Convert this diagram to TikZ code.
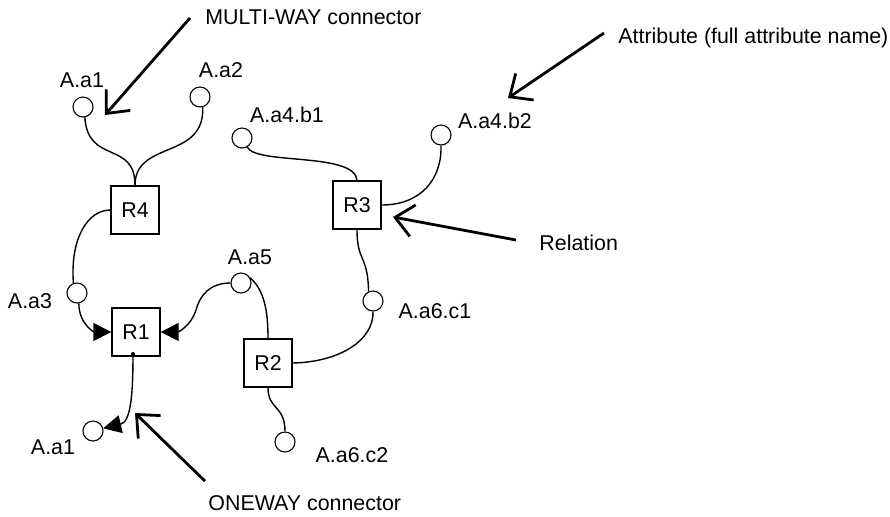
\documentclass[tikz,border=0pt]{standalone}
\usepackage{fontspec}
\setmainfont{Liberation Sans}
\usetikzlibrary{arrows.meta}
\begin{document}
\begin{tikzpicture}[x=0.5pt,y=-0.5pt,
  every node/.style={font=\fontsize{10.7}{12}\selectfont},
  attr/.style={circle,draw,line width=0.55pt,minimum size=10pt,inner sep=0pt},
  rel/.style={draw,line width=0.7pt,minimum size=24pt,inner sep=0pt},
  lbl/.style={inner sep=0pt,text depth=0pt},
  conn/.style={line width=0.7pt},
  oneway/.style={conn,-{Triangle[length=9pt,width=9pt]}},
  callout/.style={line width=1.4pt,-{Straight Barb[length=9pt,width=16pt,line width=1.4pt]}}]
\useasboundingbox (0,0) rectangle (890,516);
% attributes (circles)
\node[attr] (ca1) at (83,107) {};
\node[attr] (ca2) at (200,97) {};
\node[attr] (cb1) at (242,138) {};
\node[attr] (cb2) at (441,135) {};
\node[attr] (ca3) at (77,293) {};
\node[attr] (ca5) at (241,283) {};
\node[attr] (cc1) at (373,301) {};
\node[attr] (cc2) at (285,442) {};
\node[attr] (cx1) at (93,431) {};
% relations (boxes)
\node[rel] (R4) at (135,210) {R4};
\node[rel] (R3) at (357,205) {R3};
\node[rel] (R1) at (136,332) {R1};
\node[rel] (R2) at (268,363) {R2};
% labels
\node[lbl] (la1) at (82,80) {A.a1};
\node[lbl] (la2) at (221,70) {A.a2};
\node[lbl] (lb1) at (287,115) {A.a4.b1};
\node[lbl] (lb2) at (495,121) {A.a4.b2};
\node[lbl] (la3) at (30,301) {A.a3};
\node[lbl] (la5) at (250,257) {A.a5};
\node[lbl] (lc1) at (435,311) {A.a6.c1};
\node[lbl] (lc2) at (352,455) {A.a6.c2};
\node[lbl] (lx1) at (53,447) {A.a1};
% callout texts
\node[lbl,anchor=west] (tmw) at (205,17) {MULTI-WAY connector};
\node[lbl,anchor=west] (tat) at (618,36) {Attribute (full attribute name)};
\node[lbl,anchor=west] (trel) at (539,243) {Relation};
\node[lbl,anchor=west] (tow) at (208,503) {ONEWAY connector};
\coordinate (tipmw) at (105,115);
\coordinate (tipat) at (508,98);
\coordinate (tiprel) at (393,217);
\coordinate (tipow) at (135,413);
\coordinate (r1start) at (133,354);
% connectors
\draw[conn] (R4.north) .. controls (135,140) and (88,165) .. (ca1.-80);
\draw[conn] (R4.north) .. controls (135,140) and (205,160) .. (ca2.-75);
\draw[conn] (R4.west) .. controls (88,210) and (70,238) .. (ca3.110);
\draw[oneway] (ca3.-80) .. controls (79,325) and (95,332) .. (R1.west);
\draw[oneway] (ca5.west) .. controls (210,283) and (200,295) .. (196,310) .. controls (191,326) and (178,332) .. (R1.east);
\draw[conn] (ca5.30) .. controls (264,290) and (268,310) .. (R2.north);
\draw[conn] (R2.south) .. controls (268,410) and (285,405) .. (cc2.north);
\draw[conn] (R2.east) .. controls (340,362) and (374,340) .. (cc1.south);
\draw[conn] (R3.south) .. controls (357,262) and (368,255) .. (cc1.115);
\draw[conn] (cb1.-60) .. controls (256,165) and (355,152) .. (R3.north);
\draw[conn] (R3.east) .. controls (420,205) and (442,180) .. (cb2.south);
\fill (r1start) circle (1pt);
\draw[oneway] (r1start) .. controls (133,400) and (130,422) .. (cx1.15);
% callouts
\draw[callout] (tmw.west) ++(-15,1) coordinate (smw) -- (tipmw);
\draw[callout] (tat.west) ++(-14,-3) coordinate (sat) -- (tipat);
\draw[callout] (trel.west) ++(-23,-3) coordinate (srel) -- (tiprel);
\draw[callout] (tow.north west) ++(-3,-14) coordinate (sow) -- (tipow);
\end{tikzpicture}
\end{document}
